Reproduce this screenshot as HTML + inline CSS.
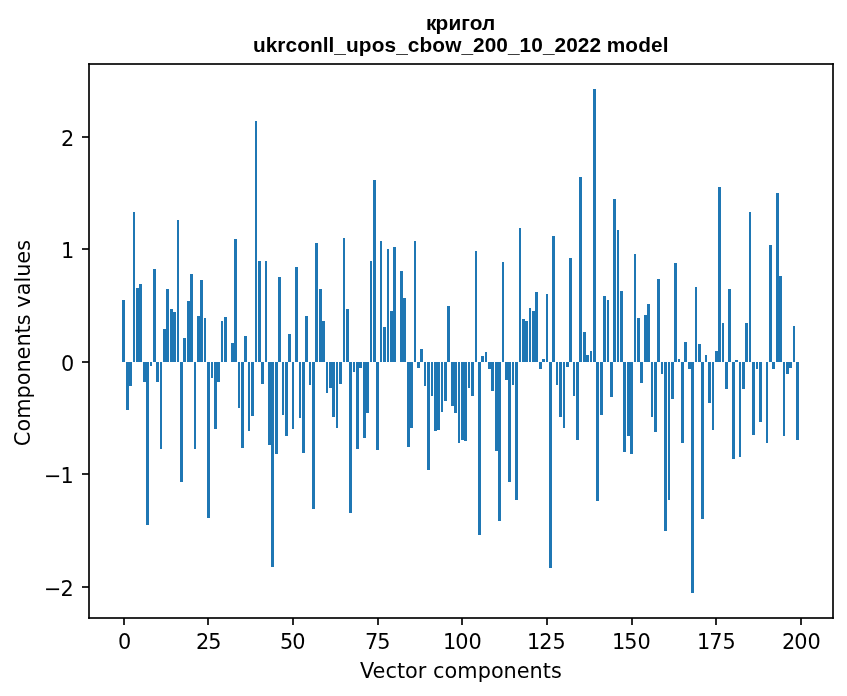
<!DOCTYPE html>
<html lang="uk">
<head>
<meta charset="utf-8">
<title>кригол — ukrconll_upos_cbow_200_10_2022 model</title>
<style>
html,body{margin:0;padding:0;background:#fff;}
body{width:847px;height:696px;overflow:hidden;position:relative;}
svg{position:absolute;left:0;top:0;display:block;}
.bars rect{fill:#1f77b4;shape-rendering:crispEdges;}
.ax rect{shape-rendering:crispEdges;}
.tick text,.lab text{font-family:"DejaVu Sans","Liberation Sans",sans-serif;font-size:20.8333px;fill:#000;}
.title text{font-family:"Liberation Sans","DejaVu Sans",sans-serif;font-weight:bold;font-size:20.8333px;fill:#000;}
</style>
</head>
<body>
<svg width="847" height="696" viewBox="0 0 847 696">
<rect x="0" y="0" width="847" height="696" fill="#fff"/>
<g class="bars">
<rect x="122" y="300" width="3" height="62"/>
<rect x="126" y="362" width="3" height="48"/>
<rect x="129" y="362" width="3" height="24"/>
<rect x="133" y="212" width="2" height="150"/>
<rect x="136" y="288" width="3" height="74"/>
<rect x="139" y="284" width="3" height="78"/>
<rect x="143" y="362" width="3" height="20"/>
<rect x="146" y="362" width="3" height="163"/>
<rect x="150" y="362" width="2" height="4"/>
<rect x="153" y="269" width="3" height="93"/>
<rect x="156" y="362" width="3" height="20"/>
<rect x="160" y="362" width="2" height="87"/>
<rect x="163" y="329" width="3" height="33"/>
<rect x="166" y="289" width="3" height="73"/>
<rect x="170" y="309" width="3" height="53"/>
<rect x="173" y="312" width="3" height="50"/>
<rect x="177" y="220" width="2" height="142"/>
<rect x="180" y="362" width="3" height="120"/>
<rect x="183" y="338" width="3" height="24"/>
<rect x="187" y="301" width="3" height="61"/>
<rect x="190" y="274" width="3" height="88"/>
<rect x="194" y="362" width="2" height="87"/>
<rect x="197" y="316" width="3" height="46"/>
<rect x="200" y="280" width="3" height="82"/>
<rect x="204" y="318" width="2" height="44"/>
<rect x="207" y="362" width="3" height="156"/>
<rect x="211" y="362" width="2" height="16"/>
<rect x="214" y="362" width="3" height="67"/>
<rect x="217" y="362" width="3" height="20"/>
<rect x="221" y="321" width="2" height="41"/>
<rect x="224" y="317" width="3" height="45"/>
<rect x="231" y="343" width="3" height="19"/>
<rect x="234" y="239" width="3" height="123"/>
<rect x="238" y="362" width="2" height="46"/>
<rect x="241" y="362" width="3" height="86"/>
<rect x="244" y="336" width="3" height="26"/>
<rect x="248" y="362" width="2" height="69"/>
<rect x="251" y="362" width="3" height="54"/>
<rect x="255" y="121" width="2" height="241"/>
<rect x="258" y="261" width="3" height="101"/>
<rect x="261" y="362" width="3" height="22"/>
<rect x="265" y="261" width="2" height="101"/>
<rect x="268" y="362" width="3" height="83"/>
<rect x="271" y="362" width="3" height="205"/>
<rect x="275" y="362" width="3" height="92"/>
<rect x="278" y="277" width="3" height="85"/>
<rect x="282" y="362" width="2" height="53"/>
<rect x="285" y="362" width="3" height="74"/>
<rect x="288" y="334" width="3" height="28"/>
<rect x="292" y="362" width="2" height="67"/>
<rect x="295" y="267" width="3" height="95"/>
<rect x="299" y="362" width="2" height="56"/>
<rect x="302" y="362" width="3" height="91"/>
<rect x="305" y="316" width="3" height="46"/>
<rect x="309" y="362" width="2" height="23"/>
<rect x="312" y="362" width="3" height="147"/>
<rect x="315" y="243" width="3" height="119"/>
<rect x="319" y="289" width="3" height="73"/>
<rect x="322" y="321" width="3" height="41"/>
<rect x="326" y="362" width="2" height="31"/>
<rect x="329" y="362" width="3" height="26"/>
<rect x="332" y="362" width="3" height="55"/>
<rect x="336" y="362" width="2" height="66"/>
<rect x="339" y="362" width="3" height="22"/>
<rect x="343" y="238" width="2" height="124"/>
<rect x="346" y="309" width="3" height="53"/>
<rect x="349" y="362" width="3" height="151"/>
<rect x="353" y="362" width="2" height="10"/>
<rect x="356" y="362" width="3" height="87"/>
<rect x="359" y="362" width="3" height="6"/>
<rect x="363" y="362" width="3" height="76"/>
<rect x="366" y="362" width="3" height="51"/>
<rect x="370" y="261" width="2" height="101"/>
<rect x="373" y="180" width="3" height="182"/>
<rect x="376" y="362" width="3" height="88"/>
<rect x="380" y="241" width="2" height="121"/>
<rect x="383" y="327" width="3" height="35"/>
<rect x="387" y="249" width="2" height="113"/>
<rect x="390" y="311" width="3" height="51"/>
<rect x="393" y="247" width="3" height="115"/>
<rect x="400" y="271" width="3" height="91"/>
<rect x="403" y="298" width="3" height="64"/>
<rect x="407" y="362" width="3" height="85"/>
<rect x="410" y="362" width="3" height="66"/>
<rect x="414" y="241" width="2" height="121"/>
<rect x="417" y="362" width="3" height="6"/>
<rect x="420" y="349" width="3" height="13"/>
<rect x="424" y="362" width="2" height="24"/>
<rect x="427" y="362" width="3" height="108"/>
<rect x="431" y="362" width="2" height="34"/>
<rect x="434" y="362" width="3" height="69"/>
<rect x="437" y="362" width="3" height="68"/>
<rect x="441" y="362" width="2" height="50"/>
<rect x="444" y="362" width="3" height="39"/>
<rect x="447" y="306" width="3" height="56"/>
<rect x="451" y="362" width="3" height="44"/>
<rect x="454" y="362" width="3" height="51"/>
<rect x="458" y="362" width="2" height="81"/>
<rect x="461" y="362" width="3" height="78"/>
<rect x="464" y="362" width="3" height="79"/>
<rect x="468" y="362" width="2" height="26"/>
<rect x="471" y="362" width="3" height="34"/>
<rect x="475" y="251" width="2" height="111"/>
<rect x="478" y="362" width="3" height="173"/>
<rect x="481" y="356" width="3" height="6"/>
<rect x="485" y="352" width="2" height="10"/>
<rect x="488" y="362" width="3" height="7"/>
<rect x="491" y="362" width="3" height="29"/>
<rect x="495" y="362" width="3" height="89"/>
<rect x="498" y="362" width="3" height="159"/>
<rect x="502" y="262" width="2" height="100"/>
<rect x="505" y="362" width="3" height="18"/>
<rect x="508" y="362" width="3" height="120"/>
<rect x="512" y="362" width="2" height="23"/>
<rect x="515" y="362" width="3" height="138"/>
<rect x="519" y="228" width="2" height="134"/>
<rect x="522" y="319" width="3" height="43"/>
<rect x="525" y="321" width="3" height="41"/>
<rect x="529" y="308" width="2" height="54"/>
<rect x="532" y="311" width="3" height="51"/>
<rect x="535" y="292" width="3" height="70"/>
<rect x="539" y="362" width="3" height="7"/>
<rect x="542" y="359" width="3" height="3"/>
<rect x="546" y="294" width="2" height="68"/>
<rect x="549" y="362" width="3" height="206"/>
<rect x="552" y="236" width="3" height="126"/>
<rect x="556" y="362" width="2" height="23"/>
<rect x="559" y="362" width="3" height="55"/>
<rect x="563" y="362" width="2" height="66"/>
<rect x="566" y="362" width="3" height="5"/>
<rect x="569" y="258" width="3" height="104"/>
<rect x="573" y="362" width="2" height="34"/>
<rect x="576" y="362" width="3" height="78"/>
<rect x="579" y="177" width="3" height="185"/>
<rect x="583" y="332" width="3" height="30"/>
<rect x="586" y="355" width="3" height="7"/>
<rect x="590" y="351" width="2" height="11"/>
<rect x="593" y="89" width="3" height="273"/>
<rect x="596" y="362" width="3" height="139"/>
<rect x="600" y="362" width="3" height="53"/>
<rect x="603" y="296" width="3" height="66"/>
<rect x="607" y="300" width="2" height="62"/>
<rect x="610" y="362" width="3" height="35"/>
<rect x="613" y="199" width="3" height="163"/>
<rect x="617" y="230" width="2" height="132"/>
<rect x="620" y="291" width="3" height="71"/>
<rect x="623" y="362" width="3" height="90"/>
<rect x="627" y="362" width="3" height="74"/>
<rect x="630" y="362" width="3" height="92"/>
<rect x="634" y="254" width="2" height="108"/>
<rect x="637" y="318" width="3" height="44"/>
<rect x="640" y="362" width="3" height="21"/>
<rect x="644" y="315" width="3" height="47"/>
<rect x="647" y="304" width="3" height="58"/>
<rect x="651" y="362" width="2" height="55"/>
<rect x="654" y="362" width="3" height="70"/>
<rect x="657" y="279" width="3" height="83"/>
<rect x="661" y="362" width="2" height="12"/>
<rect x="664" y="362" width="3" height="169"/>
<rect x="668" y="362" width="2" height="138"/>
<rect x="671" y="362" width="3" height="37"/>
<rect x="674" y="263" width="3" height="99"/>
<rect x="678" y="359" width="2" height="3"/>
<rect x="681" y="362" width="3" height="81"/>
<rect x="684" y="342" width="3" height="20"/>
<rect x="688" y="362" width="3" height="7"/>
<rect x="691" y="362" width="3" height="231"/>
<rect x="695" y="287" width="2" height="75"/>
<rect x="698" y="344" width="3" height="18"/>
<rect x="701" y="362" width="3" height="157"/>
<rect x="705" y="355" width="2" height="7"/>
<rect x="708" y="362" width="3" height="41"/>
<rect x="712" y="362" width="2" height="68"/>
<rect x="715" y="351" width="3" height="11"/>
<rect x="718" y="187" width="3" height="175"/>
<rect x="722" y="323" width="2" height="39"/>
<rect x="725" y="362" width="3" height="27"/>
<rect x="728" y="289" width="3" height="73"/>
<rect x="732" y="362" width="3" height="97"/>
<rect x="735" y="360" width="3" height="2"/>
<rect x="739" y="362" width="2" height="95"/>
<rect x="742" y="362" width="3" height="27"/>
<rect x="745" y="323" width="3" height="39"/>
<rect x="749" y="212" width="2" height="150"/>
<rect x="752" y="362" width="3" height="73"/>
<rect x="756" y="362" width="2" height="7"/>
<rect x="759" y="362" width="3" height="60"/>
<rect x="766" y="362" width="2" height="81"/>
<rect x="769" y="245" width="3" height="117"/>
<rect x="772" y="362" width="3" height="7"/>
<rect x="776" y="193" width="3" height="169"/>
<rect x="779" y="276" width="3" height="86"/>
<rect x="783" y="362" width="2" height="74"/>
<rect x="786" y="362" width="3" height="12"/>
<rect x="789" y="362" width="3" height="6"/>
<rect x="793" y="326" width="2" height="36"/>
<rect x="796" y="362" width="3" height="78"/>
</g>
<g class="ax">
<rect x="88" y="65" width="2" height="552" fill="#2a2a2a"/>
<rect x="832" y="65" width="2" height="552" fill="#2a2a2a"/>
<rect x="90" y="63" width="742" height="2" fill="#2a2a2a"/>
<rect x="90" y="617" width="742" height="2" fill="#2a2a2a"/>
<rect x="88" y="63" width="1" height="1" fill="#171717"/>
<rect x="89" y="63" width="1" height="1" fill="#0c0c0c"/>
<rect x="88" y="64" width="1" height="1" fill="#0c0c0c"/>
<rect x="89" y="64" width="1" height="1" fill="#070707"/>
<rect x="88" y="617" width="1" height="1" fill="#0c0c0c"/>
<rect x="89" y="617" width="1" height="1" fill="#070707"/>
<rect x="88" y="618" width="1" height="1" fill="#171717"/>
<rect x="89" y="618" width="1" height="1" fill="#0c0c0c"/>
<rect x="832" y="63" width="1" height="1" fill="#0c0c0c"/>
<rect x="833" y="63" width="1" height="1" fill="#171717"/>
<rect x="832" y="64" width="1" height="1" fill="#070707"/>
<rect x="833" y="64" width="1" height="1" fill="#0c0c0c"/>
<rect x="832" y="617" width="1" height="1" fill="#070707"/>
<rect x="833" y="617" width="1" height="1" fill="#0c0c0c"/>
<rect x="832" y="618" width="1" height="1" fill="#0c0c0c"/>
<rect x="833" y="618" width="1" height="1" fill="#171717"/>
<rect x="123" y="619" width="2" height="6" fill="#2a2a2a"/>
<rect x="123" y="618" width="2" height="1" fill="#070707"/>
<rect x="207" y="619" width="2" height="6" fill="#2a2a2a"/>
<rect x="207" y="618" width="2" height="1" fill="#070707"/>
<rect x="292" y="619" width="2" height="6" fill="#2a2a2a"/>
<rect x="292" y="618" width="2" height="1" fill="#070707"/>
<rect x="377" y="619" width="2" height="6" fill="#2a2a2a"/>
<rect x="377" y="618" width="2" height="1" fill="#070707"/>
<rect x="461" y="619" width="2" height="6" fill="#2a2a2a"/>
<rect x="461" y="618" width="2" height="1" fill="#070707"/>
<rect x="546" y="619" width="2" height="6" fill="#2a2a2a"/>
<rect x="546" y="618" width="2" height="1" fill="#070707"/>
<rect x="631" y="619" width="2" height="6" fill="#2a2a2a"/>
<rect x="631" y="618" width="2" height="1" fill="#070707"/>
<rect x="715" y="619" width="2" height="6" fill="#2a2a2a"/>
<rect x="715" y="618" width="2" height="1" fill="#070707"/>
<rect x="800" y="619" width="2" height="6" fill="#2a2a2a"/>
<rect x="800" y="618" width="2" height="1" fill="#070707"/>
<rect x="82" y="136" width="6" height="2" fill="#2a2a2a"/>
<rect x="88" y="136" width="1" height="2" fill="#070707"/>
<rect x="82" y="248" width="6" height="2" fill="#2a2a2a"/>
<rect x="88" y="248" width="1" height="2" fill="#070707"/>
<rect x="82" y="361" width="6" height="2" fill="#2a2a2a"/>
<rect x="88" y="361" width="1" height="2" fill="#070707"/>
<rect x="82" y="473" width="6" height="2" fill="#2a2a2a"/>
<rect x="88" y="473" width="1" height="2" fill="#070707"/>
<rect x="82" y="586" width="6" height="2" fill="#2a2a2a"/>
<rect x="88" y="586" width="1" height="2" fill="#070707"/>
</g>
<g class="tick">
<text x="117.875" y="648.5">0</text>
<text x="195.875 208.125" y="648.5">25</text>
<text x="279.875 292.125" y="648.5">50</text>
<text x="364.875 377.125" y="648.5">75</text>
<text x="442.875 455.125 468.375" y="648.5">100</text>
<text x="526.875 539.125 552.375" y="648.5">125</text>
<text x="611.875 624.125 637.375" y="648.5">150</text>
<text x="696.875 709.125 722.375" y="648.5">175</text>
<text x="781.875 794.125 807.375" y="648.5">200</text>
<text x="43.875 60.375" y="595.5">−2</text>
<text x="43.875 60.375" y="482.5">−1</text>
<text x="60.875" y="370.5">0</text>
<text x="60.875" y="257.5">1</text>
<text x="60.875" y="145.5">2</text>
</g>
<g class="lab">
<text x="359.875 372.5 385.5 396.875 405 417.625 426.5 432.875 444.375 457.125 477.625 490.875 503.5 516.625 529.5 542.625 550.875" y="677.5">Vector components</text>
<text transform="translate(29.5,446) rotate(-90)" x="-0.25 14.5 27.25 47.5 60.75 73.5 86.5 99.5 112.625 120.75 131.625 138.375 150.75 163.5 169.375 182.375 195.375" y="0">Components values</text>
</g>
<g class="title">
<text x="425.875 435.5 448.375 461.125 469.625 482" y="29.5">кригол</text>
<text x="252.875 265.625 277.25 285.375 297.125 310 322.625 328.375 334.25 346 358.75 371.75 384.5 396.125 407.75 419.375 432.25 445.25 461.375 473 484.625 496.25 507.875 519.5 531.125 542.875 554.5 566.125 577.75 589.375 601 606.625 625.25 638.25 650.875 662.625" y="51.5">ukrconll_upos_cbow_200_10_2022 model</text>
</g>
</svg>
</body>
</html>
